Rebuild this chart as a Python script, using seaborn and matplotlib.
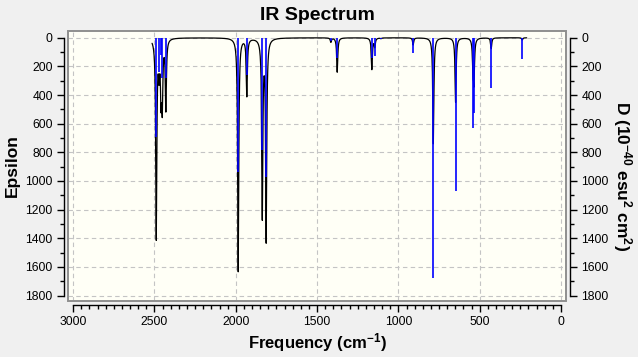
import numpy as np
import matplotlib
matplotlib.use("Agg")
import matplotlib.pyplot as plt
from matplotlib.patches import Rectangle
from matplotlib.ticker import MultipleLocator
import seaborn as sns

# IR peaks
# frequency (cm-1), epsilon depth of the black curve, D stick (blue)
freq = [2489, 2472, 2460, 2452, 2430, 1985, 1932, 1837, 1813,
        1415, 1376, 1163, 1145, 1107, 909, 785, 648, 541, 535, 429, 238]
eps = [1390, 200, 380, 440, 490, 1630, 400, 1235, 1400,
       30, 240, 220, 60, 5, 50, 740, 450, 200, 280, 75, 15]
dip = [690, 240, 120, 280, 280, 940, 260, 785, 970,
       25, 140, 140, 130, 12, 110, 1680, 1070, 630, 525, 350, 150]

x_ticks = [3000, 2500, 2000, 1500, 1000, 500, 0]
y_ticks = [0, 200, 400, 600, 800, 1000, 1200, 1400, 1600, 1800]

# lorentzian broadening like GaussView does
hwhm = 4.0
grid = np.linspace(211, 2515, 9217)
curve = np.zeros_like(grid)
for f, e in zip(freq, eps):
    curve += e / (1 + ((grid - f) / hwhm) ** 2)

sns.set_theme(style="white", rc={"text.color": "black",
                                 "axes.labelcolor": "black",
                                 "xtick.color": "black",
                                 "ytick.color": "black"})
plt.rcParams["font.family"] = ["Liberation Sans", "DejaVu Sans"]
plt.rcParams["mathtext.fontset"] = "custom"
plt.rcParams["mathtext.rm"] = "Liberation Sans:bold"
plt.rcParams["mathtext.it"] = "Liberation Sans:bold"
plt.rcParams["mathtext.bf"] = "Liberation Sans:bold"

W, H = 638, 357
fig = plt.figure(figsize=(W / 100, H / 100), dpi=100, facecolor="#f0f0f0")
ax = fig.add_axes([68 / W, 1 - 301 / H, (566 - 68) / W, (301 - 31) / H])
ax.set_facecolor("#fffff6")
ax.set_xlim(3032, -31)
ax.set_ylim(1838, -47)

ax.grid(True, which="major", color="#c4c4c4", ls=(0, (4, 3)), lw=0.8)
sns.lineplot(x=grid, y=curve, ax=ax, color="black", lw=0.9,
             estimator=None, sort=False)

ax.add_patch(Rectangle((0, 0), 1, 1, transform=ax.transAxes, fill=False,
                       ec="#8f8f8f", lw=1.4, clip_on=False, zorder=5))

ax.xaxis.set_major_locator(MultipleLocator(500))
ax.xaxis.set_minor_locator(MultipleLocator(50))
ax.yaxis.set_major_locator(MultipleLocator(200))
ax.yaxis.set_minor_locator(MultipleLocator(100))
ax.set_xticks(x_ticks)
ax.set_yticks(y_ticks)

for s in ["top", "right"]:
    ax.spines[s].set_visible(False)
for s in ["left", "bottom"]:
    ax.spines[s].set_position(("outward", 3))
    ax.spines[s].set_color("black")
    ax.spines[s].set_linewidth(1)
ax.spines["left"].set_bounds(0, 1800)
ax.spines["bottom"].set_bounds(0, 3000)

ax.tick_params(axis="both", which="both", direction="out", color="black",
               labelcolor="black", width=1, labelsize=8.7, pad=3,
               bottom=True, left=True, top=False, right=False)
ax.tick_params(which="major", length=5)
ax.tick_params(which="minor", length=3)

# D axis on the right, same scale
ax2 = ax.twinx()
ax2.set_ylim(1838, -47)
ax2.vlines(freq, 0, dip, colors="#0000ff", lw=1.2)
for s in ["top", "left", "bottom"]:
    ax2.spines[s].set_visible(False)
ax2.spines["right"].set_position(("outward", 3))
ax2.spines["right"].set_color("black")
ax2.spines["right"].set_linewidth(1)
ax2.spines["right"].set_bounds(0, 1800)
ax2.yaxis.set_major_locator(MultipleLocator(200))
ax2.yaxis.set_minor_locator(MultipleLocator(100))
ax2.set_yticks(y_ticks)
ax2.tick_params(axis="y", which="both", direction="out", color="black",
                labelcolor="black", width=1, labelsize=8.7, pad=3,
                right=True, left=False, labelright=True)
ax2.tick_params(which="major", length=5)
ax2.tick_params(which="minor", length=3)
ax2.grid(False)

ax.set_title("IR Spectrum", fontsize=14, fontweight="bold", pad=8,
             color="black")
ax.set_xlabel("Frequency (cm$^{-1}$)", fontsize=12, fontweight="bold",
              labelpad=2, color="black")
fig.text(12 / W, 1 - 166 / H, "Epsilon", rotation=90, ha="center",
         va="center", fontsize=12.5, fontweight="bold", color="black")
fig.text(622 / W, 1 - 176 / H, "D (10$^{-40}$ esu$^{2}$ cm$^{2}$)",
         rotation=270, ha="center", va="center", fontsize=12.5,
         fontweight="bold", color="black")

fig.savefig("out.png", dpi=100, facecolor=fig.get_facecolor())
